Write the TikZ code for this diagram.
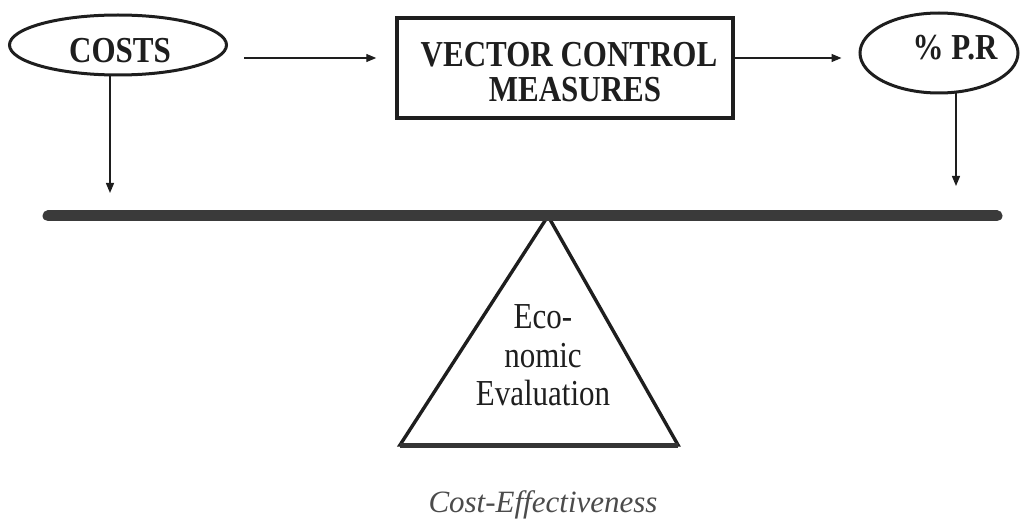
\documentclass[tikz,border=0pt]{standalone}
\usepackage{fontspec}
\setmainfont{Liberation Serif}
\usetikzlibrary{shapes.geometric,arrows.meta,calc}
\definecolor{ink}{HTML}{1E1E1E}
\definecolor{barcol}{HTML}{3A3A3A}
\tikzset{
  every node/.style={text=ink},
  oval/.style={ellipse,draw=ink,line width=3pt,inner sep=0pt},
  rbox/.style={rectangle,draw=ink,line width=3.5pt,inner sep=0pt},
  boldtxt/.style={font=\fontsize{31}{36}\bfseries\selectfont,anchor=base,inner sep=0pt,yscale=1.18},
  evtxt/.style={font=\fontsize{31}{36}\selectfont,anchor=base,inner sep=0pt,yscale=1.18},
  captxt/.style={font=\fontsize{31}{36}\itshape\selectfont,anchor=base,inner sep=0pt,text=ink!80},
  arr/.style={draw=ink,line width=1.3pt,-{Triangle[length=10pt,width=8pt]}},
  beam/.style={draw=barcol,line width=11pt,line cap=round},
  tri/.style={draw=ink,line width=3.4pt,line join=miter},
  triBase/.style={draw=ink!90,line width=5pt}
}
\begin{document}
\begin{tikzpicture}[x=1pt,y=-1pt]
\useasboundingbox (0,0) rectangle (1021,524);
% shapes
\node[oval,minimum width=217pt,minimum height=60pt] (costs) at (118,45) {};
\node[rbox,minimum width=336pt,minimum height=100pt] (box) at (565,68) {};
\node[oval,minimum width=158pt,minimum height=80pt] (pr) at (939,53) {};
% texts
\node[boldtxt] (tcosts) at (120,63) {COSTS};
\node[boldtxt] (tbox1) at (569,67) {VECTOR CONTROL};
\node[boldtxt] (tbox2) at (575,102) {MEASURES};
\node[boldtxt] (tpr) at (955,60) {\% P.R};
% connectors
\coordinate (tipL) at (110,193);
\coordinate (tipR) at (956,186);
\draw[arr] ($(costs.east)+(16,13)$) -- ($(box.west)+(-19,-10)$);
\draw[arr] ($(box.east)+(0,-10)$) -- ($(pr.west)+(-17,5)$);
\draw[arr] ($(costs.south)+(-8,0)$) -- (tipL);
\draw[arr] ($(pr.south)+(17,-1)$) -- (tipR);
% fulcrum
\coordinate (apex) at (548,216);
\coordinate (bl) at (400,445);
\coordinate (br) at (678,445);
\draw[tri] (apex) -- (bl) -- (br) -- cycle;
\draw[triBase] (bl) -- (br);
% beam
\coordinate (barL) at (48,216);
\coordinate (barR) at (997,216);
\draw[beam] (barL) -- (barR);
% triangle text
\node[evtxt] (e1) at (543,328) {Eco-};
\node[evtxt] (e2) at (543,367) {nomic};
\node[evtxt] (e3) at (543,405) {Evaluation};
% caption
\node[captxt] (cap) at (543,512) {Cost-Effectiveness};
\end{tikzpicture}
\end{document}
